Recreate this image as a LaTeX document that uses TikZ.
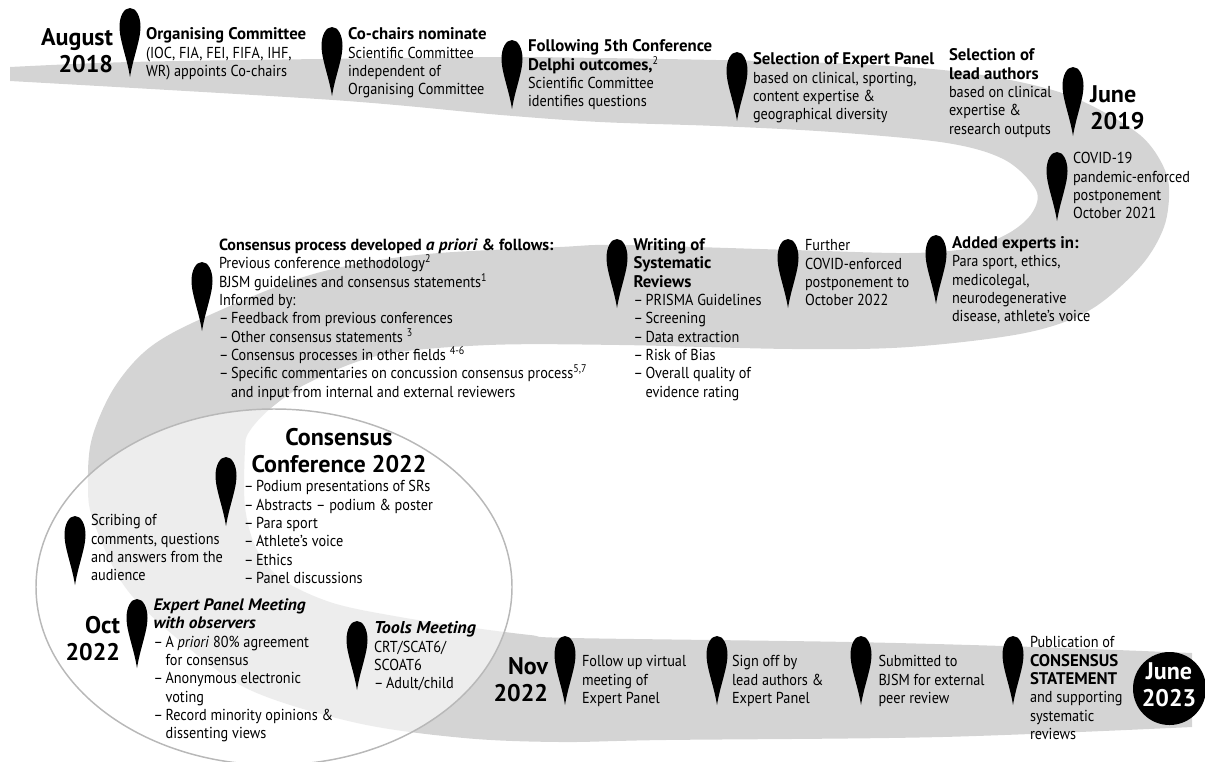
\documentclass[tikz,border=0pt]{standalone}
\usepackage{fontspec}
\setmainfont[FakeStretch=0.9,
  BoldFeatures={FakeStretch=1.0,Scale=1.06},
  BoldItalicFeatures={FakeStretch=1.05,Scale=1.08}]{PT Sans}
\definecolor{band}{HTML}{D4D4D4}
\definecolor{rim}{HTML}{B8B8B8}
\newcommand{\dg}{–\,}
\newcommand{\sps}[1]{\textsuperscript{#1}}
\tikzset{
 txt/.style={anchor=north west,inner sep=0pt,outer sep=0pt,align=left,yshift=10pt,
   font=\fontsize{11.9}{13.75}\selectfont,execute at begin node=\rule{0pt}{10pt}},
 big/.style={inner sep=0pt,outer sep=0pt,yshift=15pt,
   font=\fontsize{17}{20.25}\selectfont\bfseries,execute at begin node=\rule{0pt}{15pt}},
 bigL/.style={big,anchor=north west,align=left},
 bigR/.style={big,anchor=north east,align=right},
 bigC/.style={big,anchor=north,align=center},
 teardrop/.pic={\fill[black] (0,0) .. controls (6,0) and (10.5,8) .. (10.5,19)
   .. controls (10.5,32) and (3,50) .. (0,69)
   .. controls (-3,50) and (-10.5,32) .. (-10.5,19)
   .. controls (-10.5,8) and (-6,0) .. (0,0) -- cycle;}
}
\begin{document}
\begin{tikzpicture}[x=0.75pt,y=-0.75pt]
\useasboundingbox (0,0) rectangle (1205,761);
% ribbon
\fill[band] plot[smooth,tension=0.55] coordinates {(10,67)(130,62)(320,59)(501,57)(600,58)(716,60)(830,63)(932,69)(1000,78)(1059,92)(1100,110)(1140,135)(1160,160)(1169,187)(1164,227)(1140,267)(1090,310)(1025,333)(909,347)(793,349)(620,345)(489,345)(381,355)(310,382)(271,408)(249,432)(245,450)(245,507)(257,550)(283,580)(333,603)(400,617)(467,627)(530,635)(572,638)(850,642)(1035,647)(1192,653)}
 -- plot[smooth,tension=0.55] coordinates {(1192,727)(942,737)(665,740)(560,742)(464,738)(357,723)(250,690)(179,640)(125,587)(93,520)(88,483)(92,438)(114,388)(149,348)(203,318)(310,275)(417,255)(560,247)(620,245)(793,250)(909,253)(970,248)(1009,233)(1032,213)(1036,190)(1005,160)(947,143)(832,132)(716,126)(600,122)(501,115)(333,100)(10,81)} -- cycle;
% conference ellipse
\path[draw=rim,line width=1.1pt,fill=white,fill opacity=0.6] (274,587) ellipse [x radius=238,y radius=178];
% pins
\foreach \px/\py in {130/8,332/27,512/40,737/52,1073/67,1057/152,617/239,788/239,936/235,202/262,226/457,75/516,137/599,357/621,565/636,717/636,861/636,1013/636}
  {\pic at (\px,\py) {teardrop};}
% dates
\node[bigR] (d1) at (113,49) {August\\2018};
\node[bigL] (d2) at (1090,106) {June\\2019};
\node[bigR] (d3) at (120,636) {Oct\\2022};
\node[bigR] (d4) at (548,678) {Nov\\2022};
\node[fill=black,circle,minimum size=54.75pt,inner sep=0pt] (endc) at (1169.5,688.5) {};
\node[bigC,text=white] (d5) at (1169,683) {June\\2023};
% texts
\node[txt] (t1) at (146,41) {\textbf{Organising Committee}\\(IOC, FIA, FEI, FIFA, IHF,\\WR) appoints Co-chairs};
\node[txt] (t2) at (348,41) {\textbf{Co-chairs nominate}\\Scientific Committee\\independent of\\Organising Committee};
\node[txt] (t3) at (528,53) {\textbf{Following 5th Conference}\\\textbf{Delphi outcomes,}\sps{2}\\Scientific Committee\\identifies questions};
\node[txt] (t4) at (753,66) {\textbf{Selection of Expert Panel}\\based on clinical, sporting,\\content expertise \&\\geographical diversity};
\node[txt] (t5) at (949,62) {\textbf{Selection of}\\\textbf{lead authors}\\based on clinical\\expertise \&\\research outputs};
\node[txt] (t6) at (1073,166) {COVID-19\\pandemic-enforced\\postponement\\October 2021};
\node[txt] (t7) at (633.5,252) {\textbf{Writing of}\\\textbf{Systematic}\\\textbf{Reviews}\\\dg PRISMA Guidelines\\\dg Screening\\\dg Data extraction\\\dg Risk of Bias\\\dg Overall quality of\\\phantom{\dg}evidence rating};
\node[txt] (t8) at (805,253) {Further\\COVID-enforced\\postponement to\\October 2022};
\node[txt] (t9) at (952,250) {\textbf{Added experts in:}\\Para sport, ethics,\\medicolegal,\\neurodegenerative\\disease, athlete’s voice};
\node[txt] (t10) at (219,252) {{\fontsize{11.4}{13.75}\selectfont\textbf{Consensus process developed \textit{a priori} \& follows:}}\\Previous conference methodology\sps{2}\\BJSM guidelines and consensus statements\sps{1}\\Informed by:\\\dg Feedback from previous conferences\\\dg Other consensus statements \sps{3}\\\dg Consensus processes in other fields \sps{4-6}\\\dg Specific commentaries on concussion consensus process\sps{5,7}\\\phantom{\dg}and input from internal and external reviewers};
\node[bigC] (t11) at (339,448) {Consensus\\Conference 2022};
\node[txt] (t12) at (244,494) {\dg Podium presentations of SRs\\\dg Abstracts – podium \& poster\\\dg Para sport\\\dg Athlete’s voice\\\dg Ethics\\\dg Panel discussions};
\node[txt] (t13) at (91,528) {Scribing of\\comments, questions\\and answers from the\\audience};
\node[txt] (t14) at (153.5,612) {{\fontsize{11.5}{13.75}\selectfont\textbf{\textit{Expert Panel Meeting}}}\\{\fontsize{11.5}{13.75}\selectfont\textbf{\textit{with observers}}}\\\dg A \textit{priori} 80\% agreement\\\phantom{\dg}for consensus\\\dg Anonymous electronic\\\phantom{\dg}voting\\\dg Record minority opinions \&\\\phantom{\dg}dissenting views};
\node[txt] (t15) at (374,635) {\textbf{\textit{Tools Meeting}}\\CRT/SCAT6/\\SCOAT6\\\dg Adult/child};
\node[txt] (t16) at (582,669) {Follow up virtual\\meeting of\\Expert Panel};
\node[txt] (t17) at (732,669) {Sign off by\\lead authors \&\\Expert Panel};
\node[txt] (t18) at (878.5,669) {Submitted to\\BJSM for external\\peer review};
\node[txt] (t19) at (1030,650) {Publication of\\\textbf{CONSENSUS}\\\textbf{STATEMENT}\\and supporting\\systematic\\reviews};
\end{tikzpicture}
\end{document}
